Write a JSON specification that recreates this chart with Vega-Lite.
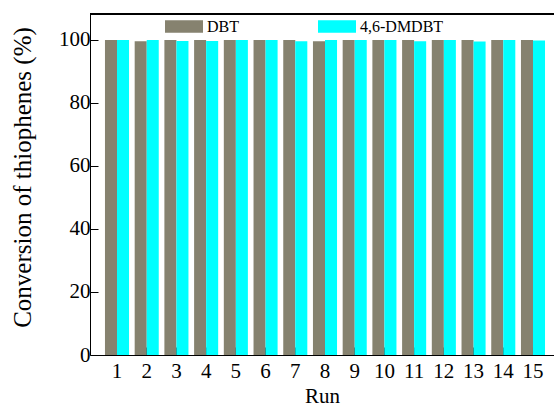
{
  "$schema": "https://vega.github.io/schema/vega-lite/v6.json",
  "width": 464,
  "height": 341,
  "autosize": {"type": "none"},
  "padding": {"left": 90, "top": 14, "right": 0, "bottom": 55},
  "config": {
    "view": {"stroke": null},
    "font": "Liberation Serif, Times New Roman, DejaVu Serif, serif",
    "axis": {"domainColor": "black", "tickColor": "black", "labelColor": "black", "titleColor": "black", "titleFontWeight": "normal", "grid": false, "labelFont": "Liberation Serif, Times New Roman, DejaVu Serif, serif", "titleFont": "Liberation Serif, Times New Roman, DejaVu Serif, serif"}
  },
  "data": {
    "values": [
      {"run": 1, "compound": "DBT", "conversion": 100},
      {"run": 1, "compound": "4,6-DMDBT", "conversion": 100},
      {"run": 2, "compound": "DBT", "conversion": 99.6},
      {"run": 2, "compound": "4,6-DMDBT", "conversion": 100},
      {"run": 3, "compound": "DBT", "conversion": 100},
      {"run": 3, "compound": "4,6-DMDBT", "conversion": 99.7},
      {"run": 4, "compound": "DBT", "conversion": 100},
      {"run": 4, "compound": "4,6-DMDBT", "conversion": 99.7},
      {"run": 5, "compound": "DBT", "conversion": 100},
      {"run": 5, "compound": "4,6-DMDBT", "conversion": 100},
      {"run": 6, "compound": "DBT", "conversion": 100},
      {"run": 6, "compound": "4,6-DMDBT", "conversion": 100},
      {"run": 7, "compound": "DBT", "conversion": 100},
      {"run": 7, "compound": "4,6-DMDBT", "conversion": 99.6},
      {"run": 8, "compound": "DBT", "conversion": 99.6},
      {"run": 8, "compound": "4,6-DMDBT", "conversion": 100},
      {"run": 9, "compound": "DBT", "conversion": 100},
      {"run": 9, "compound": "4,6-DMDBT", "conversion": 100},
      {"run": 10, "compound": "DBT", "conversion": 100},
      {"run": 10, "compound": "4,6-DMDBT", "conversion": 100},
      {"run": 11, "compound": "DBT", "conversion": 100},
      {"run": 11, "compound": "4,6-DMDBT", "conversion": 99.6},
      {"run": 12, "compound": "DBT", "conversion": 100},
      {"run": 12, "compound": "4,6-DMDBT", "conversion": 100},
      {"run": 13, "compound": "DBT", "conversion": 100},
      {"run": 13, "compound": "4,6-DMDBT", "conversion": 99.5},
      {"run": 14, "compound": "DBT", "conversion": 100},
      {"run": 14, "compound": "4,6-DMDBT", "conversion": 100},
      {"run": 15, "compound": "DBT", "conversion": 100},
      {"run": 15, "compound": "4,6-DMDBT", "conversion": 99.8}
    ]
  },
  "layer": [
    {
      "mark": {"type": "bar"},
      "encoding": {
        "x": {
          "field": "run",
          "type": "ordinal",
          "scale": {"paddingInner": 0.19, "paddingOuter": 0.403, "align": 0.625},
          "axis": {"labelAngle": 0, "labelFontSize": 21, "title": "Run", "titleFontSize": 21, "tickSize": -8, "labelPadding": 13, "titlePadding": 4}
        },
        "xOffset": {"field": "compound", "sort": ["DBT", "4,6-DMDBT"]},
        "y": {
          "field": "conversion",
          "type": "quantitative",
          "scale": {"domain": [0, 108.25], "nice": false},
          "axis": {
            "values": [0, 10, 20, 30, 40, 50, 60, 70, 80, 90, 100],
            "labelExpr": "datum.value % 20 === 0 ? datum.label : ''",
            "tickSize": {"condition": {"test": "datum.value % 20 === 0", "value": -8}, "value": -4},
            "labelFontSize": 21,
            "labelPadding": 8,
            "title": "Conversion of thiophenes (%)",
            "titleFontSize": 25,
            "titlePadding": 23,
            "titleY": 163
          }
        },
        "color": {
          "field": "compound",
          "type": "nominal",
          "sort": ["DBT", "4,6-DMDBT"],
          "scale": {"range": ["#86826F", "#00FFFF"]},
          "legend": {
            "orient": "none",
            "legendX": 75,
            "legendY": -6.5,
            "direction": "horizontal",
            "title": null,
            "symbolType": "M-1,-0.33H1V0.33H-1Z",
            "symbolSize": 1444,
            "symbolStrokeWidth": 0,
            "symbolOpacity": 1,
            "labelFontSize": 16,
            "labelColor": "black",
            "labelFont": "Liberation Serif, Times New Roman, DejaVu Serif, serif",
            "labelOffset": 4,
            "columnPadding": 79,
            "padding": 0
          }
        }
      }
    },
    {
      "mark": {"type": "rule", "color": "black", "strokeWidth": 1},
      "encoding": {"y": {"datum": 108.25}}
    }
  ]
}
